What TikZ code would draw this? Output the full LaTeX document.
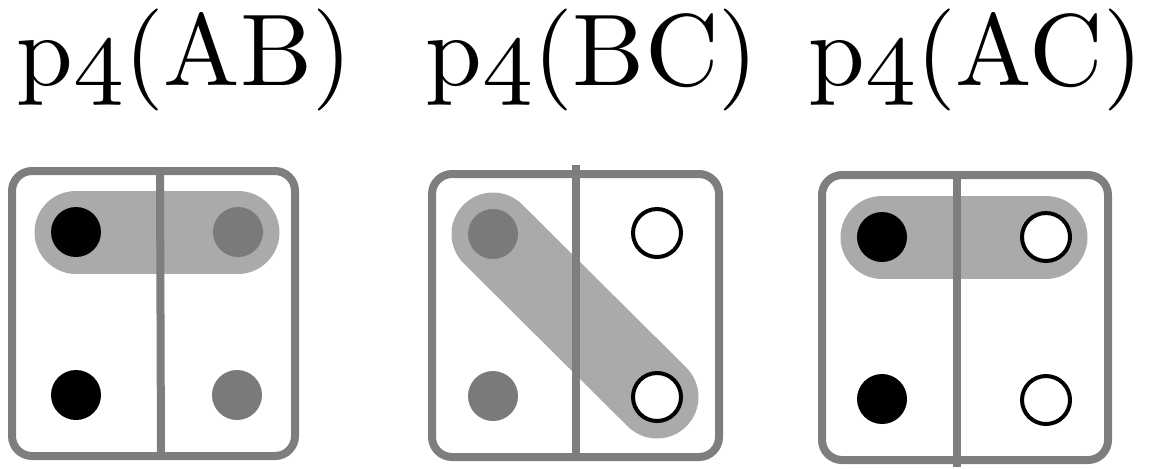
\documentclass[tikz,border=0pt]{standalone}
\usetikzlibrary{backgrounds}
\definecolor{framegray}{RGB}{126,126,126}
\definecolor{pillgray}{RGB}{170,170,170}
\definecolor{dotgray}{RGB}{122,122,122}
% old-style figure four from the math italic font
\newcommand{\osfour}{{\usefont{OML}{cmm}{m}{it}4}}
% title text: 10pt design size, enlarged
\newcommand{\ptitle}[1]{\scalebox{5.1}{p\osfour(#1)}}
\begin{document}
\begin{tikzpicture}[x=0.5pt,y=-0.5pt,
  title/.style={anchor=base west, inner sep=0pt, font=\fontsize{10}{12}\selectfont},
  frame/.style={draw=framegray, line width=4pt, rounded corners=10pt},
  divider/.style={draw=framegray, line width=4pt},
  pill/.style={draw=pillgray, line width=41.5pt, line cap=round},
  dotblack/.style={circle, fill=black, minimum size=25pt, inner sep=0pt},
  dotgray/.style={circle, fill=dotgray, minimum size=25pt, inner sep=0pt},
  dotopen/.style={circle, draw=black, fill=white, line width=2pt, minimum size=24pt, inner sep=0pt}]
\useasboundingbox (0,0) rectangle (1154,468);

% titles
\node[title] (t1) at (16,85)  {\ptitle{AB}};
\node[title] (t2) at (425,85) {\ptitle{BC}};
\node[title] (t3) at (808,85) {\ptitle{AC}};

% panel AB
\draw[frame] (12,171) rectangle (295,456);
\draw[divider] (160,171) -- (161,458);
\node[dotblack] (ab1) at (76,232) {};
\node[dotgray]  (ab2) at (238,232) {};
\node[dotblack] (ab3) at (76,395) {};
\node[dotgray]  (ab4) at (237,395) {};
\begin{scope}[on background layer]
  \draw[pill] (ab1.center) -- (ab2.center);
\end{scope}

% panel BC
\draw[frame] (432,174) rectangle (719,457);
\draw[divider] (576,165) -- (576,457);
\node[dotgray] (bc1) at (493,234) {};
\node[dotopen] (bc2) at (657,233) {};
\node[dotgray] (bc3) at (493,396) {};
\node[dotopen] (bc4) at (657,397) {};
\begin{scope}[on background layer]
  \draw[pill] (bc1.center) -- (bc4.center);
\end{scope}

% panel AC
\draw[frame] (822,175) rectangle (1108,460);
\draw[divider] (957,175) -- (957,467);
\node[dotblack] (ac1) at (882,237) {};
\node[dotopen]  (ac2) at (1046,237) {};
\node[dotblack] (ac3) at (882,399) {};
\node[dotopen]  (ac4) at (1046,400) {};
\begin{scope}[on background layer]
  \draw[pill] (ac1.center) -- (ac2.center);
\end{scope}
\end{tikzpicture}
\end{document}
